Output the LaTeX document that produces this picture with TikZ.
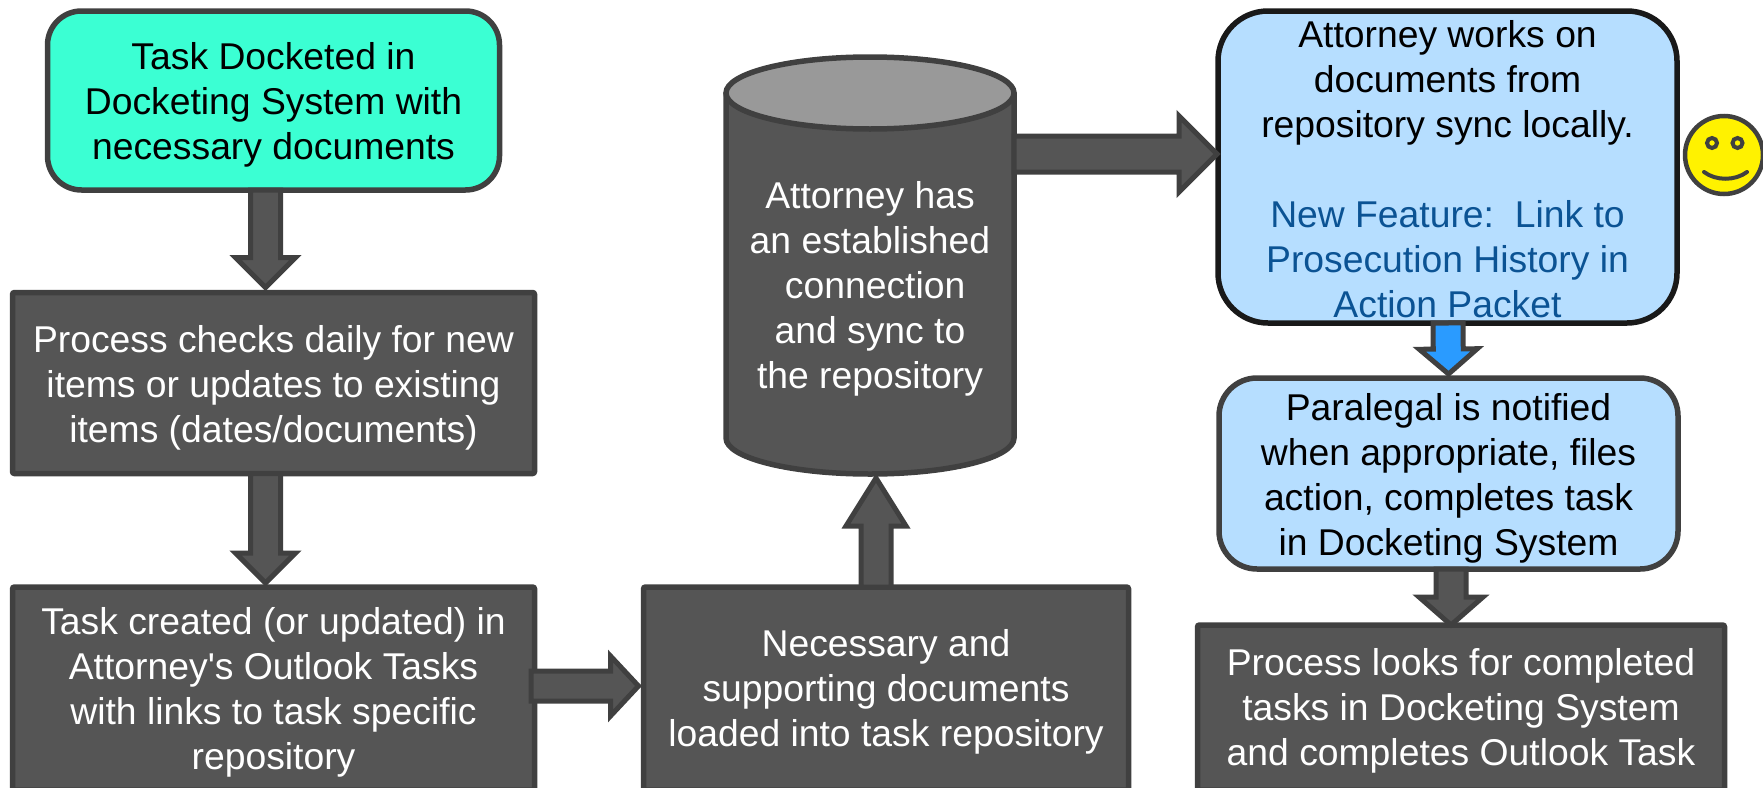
\documentclass[tikz,border=0pt]{standalone}
\usepackage{fontspec}
\setmainfont{Liberation Sans}[Ligatures=TeXOff]
\usetikzlibrary{calc,backgrounds}
\definecolor{greyfill}{HTML}{555555}
\definecolor{greyline}{HTML}{404040}
\definecolor{mint}{HTML}{3BFFD3}
\definecolor{paleblue}{HTML}{B6DEFF}
\definecolor{linkblue}{HTML}{0B5394}
\definecolor{arrowblue}{HTML}{2A9BFF}
\definecolor{cyltop}{HTML}{999999}
\newcommand{\dropfirst}[1]{\rule{0pt}{#1pt}}
\tikzset{
  x=1pt,y=-1pt,
  anybox/.style={rectangle,draw,line width=5.5pt,inner sep=0pt,outer sep=0pt,align=center,
    font=\fontsize{37.3}{45}\selectfont},
  greybox/.style={anybox,draw=greyline,fill=greyfill,text=white,rounded corners=2pt},
  mintbox/.style={anybox,draw=greyline,fill=mint,text=black,rounded corners=34pt},
  blueboxdark/.style={anybox,draw=black!90,fill=paleblue,text=black,rounded corners=50pt},
  bluebox/.style={anybox,draw=greyline,fill=paleblue,text=black,rounded corners=38pt},
  cyltext/.style={rectangle,inner sep=0pt,outer sep=0pt,align=center,text=white,
    font=\fontsize{37.3}{45}\selectfont},
  blockarrow/.style={draw=greyline,fill=greyfill,line width=5pt,miter limit=10},
  bluearrow/.style={blockarrow,fill=arrowblue},
  cylbody/.style={draw=greyline,fill=greyfill,line width=5.5pt},
  cyllid/.style={draw=greyline,fill=cyltop,line width=5.5pt},
  facepart/.style={draw=greyline,line width=4pt,line cap=round},
}
% #1 style, #2 from, #3 to, #4 shaft half width, #5 head half width, #6 head length
\newcommand{\blockarrowfromto}[6]{%
  \coordinate (ba) at #2;
  \coordinate (bb) at #3;
  \coordinate (bh) at ($(bb)!#6pt!(ba)$);
  \draw[#1] ($(ba)!#4pt!90:(bb)$) -- ($(bh)!#4pt!90:(bb)$) -- ($(bh)!#5pt!90:(bb)$) -- (bb)
    -- ($(bh)!#5pt!-90:(bb)$) -- ($(bh)!#4pt!-90:(bb)$) -- ($(ba)!#4pt!-90:(bb)$) -- cycle;
}
\begin{document}
\begin{tikzpicture}
\useasboundingbox (0,0) rectangle (1763,787);
\node[mintbox,minimum width=452pt,minimum height=179pt] (docket) at (273.5,100.5)
  {\dropfirst{36}Task Docketed in\\Docketing System with\\necessary documents};
\node[greybox,minimum width=522pt,minimum height=181pt] (daily) at (273.5,383)
  {\dropfirst{36}Process checks daily for new\\items or updates to existing\\items (dates/documents)};
\node[greybox,minimum width=522pt,minimum height=203pt] (created) at (273.5,688.5)
  {\dropfirst{34}Task created (or updated) in\\Attorney's Outlook Tasks\\with links to task specific\\repository};
\node[greybox,minimum width=485pt,minimum height=203pt] (loaded) at (886,688.5)
  {\dropfirst{34}Necessary and\\supporting documents\\loaded into task repository};
\node[cyltext,minimum width=288pt,minimum height=381pt] (repo) at (870,285.5)
  {\dropfirst{34}Attorney has\\an established\\\hspace*{0.278em}connection\\and sync to\\the repository};
\begin{pgfonlayer}{background}
  \draw[cylbody] (repo.north west) -- (repo.west |- 0,438) arc[start angle=180,end angle=0,x radius=144,y radius=36]
    -- (repo.north east) -- cycle;
  \draw[cyllid] ($(repo.north)+(0,-2)$) ellipse[x radius=144,y radius=36];
\end{pgfonlayer}
\node[blueboxdark,minimum width=459pt,minimum height=312pt] (works) at (1447.5,167)
  {\dropfirst{31}Attorney works on\\documents from\\repository sync locally.\\[45pt]\textcolor{linkblue}{New Feature:\ \ Link to}\\\textcolor{linkblue}{Prosecution History in}\\\textcolor{linkblue}{Action Packet}};
\node[bluebox,minimum width=459pt,minimum height=191pt] (paralegal) at (1448.5,473.5)
  {\dropfirst{36}Paralegal is notified\\when appropriate, files\\action, completes task\\in Docketing System};
\node[greybox,minimum width=527pt,minimum height=165pt] (looks) at (1461,707.5)
  {\dropfirst{34}Process looks for completed\\tasks in Docketing System\\and completes Outlook Task};
\node[circle,draw=greyline,fill=yellow,line width=4.5pt,minimum size=78pt,inner sep=0pt,outer sep=0pt] (smiley) at (1724,155) {};
\draw[facepart,fill=yellow] (1712,143) circle[radius=5];
\draw[facepart,fill=yellow] (1737.5,143) circle[radius=5];
\draw[facepart] (1704,172) .. controls (1716,181) and (1735,181) .. (1747,172);
\blockarrowfromto{blockarrow}{($(docket.south)+(-8,0)$)}{($(daily.north)+(-8,-5)$)}{15}{30}{30}
\blockarrowfromto{blockarrow}{($(daily.south)+(-8,0)$)}{($(created.north)+(-8,-4)$)}{15}{30}{30}
\blockarrowfromto{blockarrow}{($(created.east)+(-3.5,-2.5)$)}{($(loaded.west)+(-5,-2.5)$)}{15}{30}{28}
\blockarrowfromto{blockarrow}{($(loaded.north)+(-10,0)$)}{($(repo.south)+(6,2)$)}{15}{30}{48}
\blockarrowfromto{blockarrow}{($(repo.east |- 0,154)$)}{($(works.west |- 0,154)+(-1,0)$)}{18}{38}{38}
\blockarrowfromto{bluearrow}{($(works.south)+(0.5,0)$)}{($(paralegal.north)+(0,-4)$)}{15}{29}{25}
\blockarrowfromto{blockarrow}{($(paralegal.south)+(2.5,0)$)}{($(looks.north)+(-10,0)$)}{15}{32}{28}
\end{tikzpicture}
\end{document}
